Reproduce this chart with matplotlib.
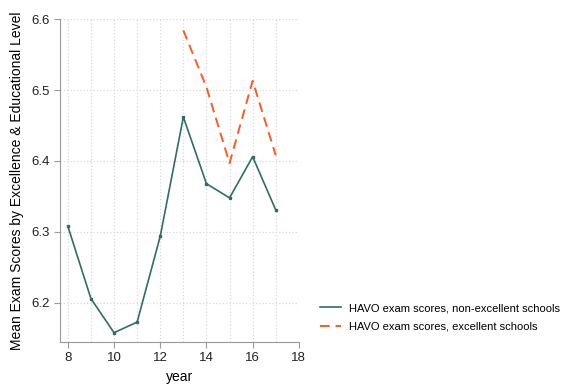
import matplotlib
matplotlib.use("Agg")
import matplotlib.pyplot as plt

plt.rcParams['font.family'] = ['Liberation Sans', 'DejaVu Sans']

years_non = [8, 9, 10, 11, 12, 13, 14, 15, 16, 17]
scores_non = [6.308, 6.206, 6.158, 6.173, 6.294, 6.462, 6.368, 6.348, 6.406, 6.331]
years_exc = [13, 14, 15, 16, 17]
scores_exc = [6.584, 6.504, 6.397, 6.513, 6.408]

green = '#2f6e64'
orange = '#ff5a1f'

fig = plt.figure(figsize=(5.66, 3.89), dpi=100)
ax = fig.add_axes([0.106, 0.121, 0.422, 0.830])

ax.plot(years_non, scores_non, color=green, lw=1.2, marker='s', ms=2,
        label='HAVO exam scores, non-excellent schools')
ax.plot(years_exc, scores_exc, color=orange, lw=1.4, ls=(0, (5, 3)),
        label='HAVO exam scores, excellent schools')

ax.set_xlim(7.66, 18)
ax.set_ylim(6.145, 6.6)
ax.set_xticks([8, 10, 12, 14, 16, 18])
ax.set_yticks([6.2, 6.3, 6.4, 6.5, 6.6])
ax.set_xticks(range(8, 19), minor=True)
ax.tick_params(which='minor', length=0)
ax.grid(True, which='both', axis='x', color='#d9d9d9', ls=':', lw=0.9)
ax.grid(True, which='major', axis='y', color='#d9d9d9', ls=':', lw=0.9)
ax.set_axisbelow(True)

for s in ['top', 'right']:
    ax.spines[s].set_visible(False)
for s in ['left', 'bottom']:
    ax.spines[s].set_color('#999999')
ax.tick_params(colors='#999999', labelcolor='#222222', labelsize=9.5, length=4)

ax.set_xlabel('year', fontsize=10)
ax.set_ylabel('Mean Exam Scores by Excellence & Educational Level', fontsize=10, labelpad=5)

leg = fig.legend(loc='center left', bbox_to_anchor=(0.548, 0.184), frameon=False,
                 fontsize=8, handlelength=1.9, handletextpad=0.7, labelspacing=0.75)
for h in leg.legend_handles:
    h.set_marker('None')

fig.savefig('out.png', dpi=100)
